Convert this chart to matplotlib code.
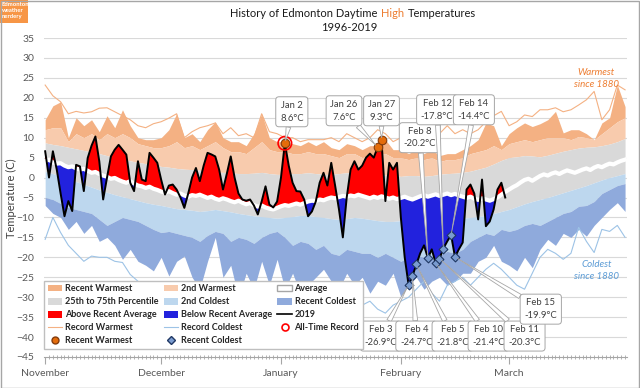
import numpy as np
import matplotlib
matplotlib.use('Agg')
import matplotlib.pyplot as plt
from matplotlib.patches import Patch, Rectangle
from matplotlib.lines import Line2D

plt.rcParams['font.family'] = ['Lato', 'DejaVu Sans']

# day index: 0 = Nov 1 ... 150 = Mar 31
band_days = np.arange(0, 151, 2)
days = np.arange(151)
days_2019 = np.arange(120)

month_starts = [0, 30, 61, 92, 120]
month_names = ['November', 'December', 'January', 'February', 'March']

rec_warm = [23.2, 20.5, 19, 16, 16.6, 16.2, 16.5, 17.4, 17.5, 16.5,
            15.5, 14.5, 13, 12.5, 13.5, 14, 14.9, 16, 10, 11.5,
            12.5, 13, 13.7, 11, 12.5, 10.5, 11, 10, 16, 11.5,
            11, 10, 10, 9, 9.5, 9.5, 9.5, 10, 9, 11,
            10, 9, 10, 12, 11, 9, 10, 9, 10, 11,
            12, 11, 13, 11, 12, 11, 12, 14, 15.5, 16.6,
            13, 14, 15.7, 15.3, 17, 17, 17.5, 16.5, 17, 18.2,
            19.5, 21.6, 14.5, 17, 23.2, 22]
warm1 = [14.5, 18, 19, 10, 15, 13, 14.5, 11.5, 15.5, 12.5,
         17, 13, 10, 9.5, 9.5, 10, 12, 16, 10, 11,
         9, 12, 14, 10, 9, 9, 8, 11, 16, 10,
         9, 9, 8.5, 8, 9, 8, 9, 7.5, 7, 8.5,
         8, 7, 8, 8, 9.5, 7, 7, 6, 7, 6,
         7, 5.5, 6, 6, 7, 8, 9.5, 13.7, 13, 8,
         11, 12.5, 13.7, 12.8, 13.5, 14.5, 16.6, 11.2, 12, 12,
         11, 9.5, 13.7, 15, 23.2, 17.8]
warm2 = [12, 12.5, 12.5, 9, 11, 10, 11, 9.5, 11, 10,
         11, 10, 8.5, 8, 7.5, 7.5, 8, 9, 7.5, 8,
         7, 8, 9, 7.5, 6.5, 6.5, 6, 7.5, 9, 7,
         6.5, 6.5, 6, 6, 6.5, 6, 6, 5.5, 5, 6,
         6, 5, 5.5, 6, 6, 5, 5, 4.5, 5, 4.5,
         5, 4, 4.5, 4.5, 5, 6, 6.5, 7, 8, 7,
         8.5, 9, 9.5, 9, 9.5, 10, 10, 10, 9.5, 10.3,
         10, 9.5, 11, 12.5, 14, 15]
pct75 = [8.7, 8.3, 8, 7.6, 7.2, 6.8, 6.4, 6, 5.5, 5,
         4.6, 4.2, 3.8, 3.5, 3.2, 2.8, 2.6, 2.3, 2.1, 2,
         1.8, 1.6, 1.4, 1.3, 1.2, 1, 1, 1.1, 1.3, 1,
         0.8, 0.8, 1, 1, 1.2, 1, 0.8, 0.8, 1, 1.2,
         1.4, 1.2, 1, 0.8, 0.6, 0.5, 0.3, 0.5, 0.5, 0.3,
         0.5, 0.8, 1, 1.1, 1.3, 1.6, 2.1, 2.6, 3.4, 4.3,
         5, 5.2, 5.5, 5.4, 5.2, 5.6, 6.1, 6.6, 7, 7.4,
         7.6, 7.7, 8, 8.4, 9, 9.8]
pct25 = [1.5, 1, 0.2, -0.5, -1, -1.7, -2.4, -3.1, -3.7, -4.3,
         -4.8, -5.3, -5.8, -6.3, -6.7, -7, -7.4, -7.8, -8, -8.2,
         -8.5, -8.3, -8, -8.3, -8.6, -9, -9.3, -9.6, -9.8, -10,
         -10.2, -10, -9.8, -9.5, -9.5, -9.8, -10, -10.3, -10.5, -10.3,
         -10, -10.2, -10.5, -10.8, -11, -11, -10.8, -10.5, -10.3, -10,
         -10, -10.3, -10.6, -10.5, -10.2, -10, -9.8, -9.5, -9, -8.5,
         -8, -7.3, -6.6, -6, -5.5, -5, -4.4, -3.8, -3.2, -2.6,
         -2, -1.3, -0.6, 0, 0.5, 1]
cold2 = [-5, -5.5, -6.5, -7.5, -8, -8.5, -9, -10.5, -12, -11,
         -10, -10.5, -11, -12, -13, -13.8, -13.5, -14, -14.5, -15,
         -16, -14.5, -13.5, -14, -16, -15, -15.5, -16.5, -15, -14,
         -13.5, -15, -17, -16, -16.5, -18, -17, -19, -19.5, -18,
         -18.5, -19, -19, -20, -19, -20, -21, -20, -19.5, -20,
         -20.5, -19.5, -18.5, -19, -18, -16, -15, -14, -14.5, -13,
         -13.5, -13, -12, -11.5, -12, -11, -10, -9, -8.5, -7.2,
         -7, -6, -4, -3, -2, -1.5]
cold1 = [-7, -9, -10, -13, -11, -14, -12, -16, -15, -17,
         -20.5, -18, -21, -22, -23.4, -20, -24.7, -21, -19.7, -25,
         -28, -21, -15, -25, -22, -30, -24, -28, -21, -27,
         -20.5, -28, -24, -29, -27, -25, -23, -26, -28, -24,
         -27, -25, -29, -26, -27, -24, -30, -27, -25, -28,
         -26, -25, -27, -26, -24, -24, -21, -20, -17, -21,
         -22, -23.4, -20, -22.6, -18, -15.5, -17, -14, -15, -13,
         -14.7, -12, -10, -8, -6.3, -8.5]
rec_cold = [-15.5, -10, -13.8, -17, -19, -21, -19.7, -20, -20, -21,
            -21.3, -24.3, -26, -27, -28, -30, -32, -30, -33, -34,
            -33, -35, -34, -36, -35, -38, -36, -37, -39, -37,
            -38, -40, -38, -39, -37, -41, -40, -38, -36, -39,
            -33, -32, -31, -33, -34, -32, -31, -30, -28, -26,
            -29, -31, -27, -26, -25, -27, -25, -23, -21.5, -23,
            -25, -27, -28, -24, -20, -18, -19, -20.5, -19, -12.5,
            -16, -18.8, -13, -13.5, -12, -15]

average = [4.1, 4.5, 3.8, 3.5, 3.6, 3.0, 2.6, 2.8, 2.3, 2.0,
           2.2, 1.7, 1.2, 1.4, 0.9, 0.5, 0.2, -0.3, -0.1, -0.6,
           -1.0, -1.3, -0.9, -1.5, -2.0, -2.2, -2.6, -2.3, -2.8, -3.1,
           -3.5, -3.8, -3.4, -3.9, -4.3, -4.0, -4.5, -4.8, -4.4, -4.6,
           -4.3, -4.7, -5.1, -4.8, -5.3, -5.6, -5.2, -5.5, -5.9, -6.2,
           -5.8, -6.3, -6.7, -6.4, -6.9, -7.3, -7.0, -7.5, -7.8, -8.0,
           -7.6, -7.2, -6.9, -7.1, -6.8, -6.5, -6.8, -6.4, -6.0, -5.8,
           -5.9, -5.5, -5.7, -5.3, -5.0, -5.2, -4.9, -4.6, -4.8, -4.5,
           -4.7, -4.3, -4.6, -4.9, -5.2, -4.8, -5.1, -4.7, -5.0, -5.3,
           -5.0, -5.4, -5.1, -4.8, -5.2, -5.5, -5.1, -4.7, -4.4, -4.8,
           -4.5, -4.2, -4.6, -4.3, -4.0, -4.4, -4.1, -4.5, -4.8, -5.1,
           -4.8, -5.3, -5.6, -5.2, -5.5, -5.8, -5.4, -5.0, -4.3, -3.6,
           -3.0, -2.4, -1.9, -1.2, -0.6, -0.3, -0.8, -0.2, 0.4, 0.8,
           0.5, 1.0, 1.3, 0.9, 1.4, 1.8, 1.5, 1.2, 1.6, 2.0,
           2.3, 1.9, 2.5, 2.9, 2.6, 3.1, 3.5, 3.3, 3.8, 4.2,
           4.5]

temps_2019 = [6.6, 0, 6.6, 2, -4, -9.7, -5.9, -8.4, 3.2, 2.8,
              -3.4, 4.9, 8, 10.3, 4.1, -5.5, 0, 5.3, 7, 8.2,
              7, 5.75, -1.3, -3.4, 4.1, -0.5, -0.9, 6.2, 5, 3.7,
              -0.5, -4.25, -2, -1.75, -3, -5, -7.6, -4, 0, 2.4,
              -0.9, 3, 6.2, 5.8, 5.3, 2, -3, 1, 5.3, 0,
              -4, -5.5, -5.8, -5.5, -7, -9.25, -6, -2.2, -6.75, -7.5,
              -6, 0, 8.6, 3, -1.3, -3.4, -3.5, -5.5, -9.7, -8.5,
              -6, -1.3, 1.2, -2, 3.7, -2, -8, -15, -5, 2,
              4.1, 2, 3, 5, 6, 5, 7.6, 9.3, -5.9, 3.7,
              2, 3.7, -10, -20, -26.9, -24.7, -21.8, -19, -17, -20.2,
              -18, -21.4, -20.3, -17.8, -16, -14.4, -19.9, -18, -16.3, -3,
              -1.75, -4, -10.5, -0.5, -12.2, -11, -8, -3, -1.3, -5]

warm_days = [62, 86, 87]
warm_labels = ['Jan 2', 'Jan 26', 'Jan 27']
alltime_days = [62]
cold_days = [94, 95, 96, 99, 101, 102, 103, 105, 106]
cold_labels = ['Feb 3', 'Feb 4', 'Feb 5', 'Feb 8', 'Feb 10', 'Feb 11',
               'Feb 12', 'Feb 14', 'Feb 15']

t19 = np.array(temps_2019)
avg = np.array(average)

fig = plt.figure(figsize=(6.4, 3.88), dpi=100)
ax = fig.add_axes([44 / 640, 31 / 388, 583 / 640, 319 / 388])
ax.set_xlim(-0.3, 150.5)
ax.set_ylim(-45, 35)

for yv in range(-40, 36, 5):
    ax.axhline(yv, color='#D9D9D9', lw=0.8, zorder=0)

# climate bands
ax.fill_between(band_days, warm2, warm1, color='#F4B183', lw=0, zorder=1)
ax.fill_between(band_days, pct75, warm2, color='#F8CBAD', lw=0, zorder=1)
ax.fill_between(band_days, pct25, pct75, color='#D9D9D9', lw=0, zorder=1)
ax.fill_between(band_days, cold2, pct25, color='#BDD7EE', lw=0, zorder=1)
ax.fill_between(band_days, cold1, cold2, color='#8FAADC', lw=0, zorder=1)
ax.plot(band_days, rec_warm, color='#F4B183', lw=0.8, zorder=2)
ax.plot(band_days, rec_cold, color='#9DC3E6', lw=0.8, zorder=2)

# 2019 vs average
a19 = avg[:len(t19)]
ax.fill_between(days_2019, a19, t19, where=t19 >= a19, interpolate=True,
                color='#FF0000', lw=0, zorder=3)
ax.fill_between(days_2019, a19, t19, where=t19 <= a19, interpolate=True,
                color='#2222DD', lw=0, zorder=3)
ax.plot(days, avg, color='white', lw=3, zorder=4)
ax.plot(days_2019, t19, color='black', lw=1.4, zorder=5)

# record markers
ax.scatter(warm_days, t19[warm_days], s=38, c='#E46C0A', edgecolors='#843C0C',
           linewidths=0.8, zorder=7)
ax.scatter(alltime_days, t19[alltime_days], s=95, facecolors='none',
           edgecolors='red', linewidths=1.2, zorder=7)
ax.scatter(cold_days, t19[cold_days], s=20, marker='D', c='#7A9CD0',
           edgecolors='#203864', linewidths=0.8, zorder=7)

# callout boxes (box centre in day / degC)
box_pos = {
    'Jan 2': (63.8, 16.5), 'Jan 26': (77.3, 16.75), 'Jan 27': (87, 16.75),
    'Feb 8': (96.9, 10), 'Feb 12': (101.4, 17), 'Feb 14': (110.9, 17),
    'Feb 15': (128.2, -33), 'Feb 3': (86.8, -39.75), 'Feb 4': (96, -39.75),
    'Feb 5': (105.4, -39.75), 'Feb 10': (114.7, -39.75), 'Feb 11': (124, -39.75),
}
for d, lab in zip(warm_days + cold_days, warm_labels + cold_labels):
    ax.annotate(f'{lab}\n{t19[d]:.1f}°C', xy=(d, t19[d]), xytext=box_pos[lab],
                textcoords='data', ha='center', va='center', fontsize=6.8,
                color='#404040', linespacing=1.5,
                bbox=dict(boxstyle='round,pad=0.45,rounding_size=0.35',
                          fc='white', ec='#A6A6A6', lw=0.7),
                arrowprops=dict(arrowstyle='wedge,tail_width=0.5', fc='white',
                                ec='#A6A6A6', lw=0.6, shrinkA=0, shrinkB=2),
                zorder=8)

ax.text(142.6, 24.9, 'Warmest\nsince 1880', color='#ED7D31', fontsize=7,
        style='italic', ha='center', va='center', linespacing=1.4)
ax.text(142.6, -23.3, 'Coldest\nsince 1880', color='#5B9BD5', fontsize=7,
        style='italic', ha='center', va='center', linespacing=1.4)

# axes styling
for s in ['top', 'right', 'left']:
    ax.spines[s].set_visible(False)
ax.spines['bottom'].set_color('#A6A6A6')
ax.set_yticks(range(-45, 36, 5))
ax.tick_params(axis='y', length=0, labelsize=7.5, labelcolor='#595959', pad=7)
ax.set_xticks(month_starts)
ax.set_xticklabels(month_names)
ax.set_xticks(days, minor=True)
ax.tick_params(axis='x', which='major', length=5, color='#A6A6A6',
               labelsize=7.5, labelcolor='#595959', pad=4)
ax.tick_params(axis='x', which='minor', length=3, direction='inout',
               color='#A6A6A6', width=0.6)

# legend
handles = [
    Patch(fc='#F4B183', label='Recent Warmest'),
    Patch(fc='#D9D9D9', label='25th to 75th Percentile'),
    Patch(fc='#FF0000', label='Above Recent Average'),
    Line2D([], [], color='#F4B183', lw=0.8, label='Record Warmest'),
    Line2D([], [], ls='', marker='o', ms=5, mfc='#E46C0A', mec='#843C0C',
           label='Recent Warmest'),
    Patch(fc='#F8CBAD', label='2nd Warmest'),
    Patch(fc='#BDD7EE', label='2nd Coldest'),
    Patch(fc='#2222DD', label='Below Recent Average'),
    Line2D([], [], color='#9DC3E6', lw=0.8, label='Record Coldest'),
    Line2D([], [], ls='', marker='D', ms=4, mfc='#7A9CD0', mec='#203864',
           label='Recent Coldest'),
    Patch(fc='white', ec='#A6A6A6', label='Average'),
    Patch(fc='#8FAADC', label='Recent Coldest'),
    Line2D([], [], color='black', lw=1.2, label='2019'),
    Line2D([], [], ls='', marker='o', ms=5, mfc='none', mec='red', mew=1.2,
           label='All-Time Record'),
]
leg = ax.legend(handles=handles, ncol=3, loc='lower left',
                bbox_to_anchor=(0.0, 0.025, 0.547, 0.21), mode='expand',
                fontsize=6.5, frameon=True, fancybox=False, framealpha=1,
                edgecolor='#BFBFBF', handlelength=1.6, handleheight=0.8,
                handletextpad=0.3, labelspacing=0.45, borderpad=0.4,
                columnspacing=0.8, borderaxespad=0)
leg.set_zorder(9)
for t in leg.get_texts():
    t.set_color('#262626')
    t.set_fontweight('bold')

# titles
t1 = fig.text(230 / 640, 0.955, 'History of Edmonton Daytime', fontsize=8,
              color='#1A1A1A', ha='left', va='baseline')
t2 = ax.annotate('High', xy=(1, 0), xycoords=t1, xytext=(2.5, 0),
                 textcoords='offset points', fontsize=8, color='#ED7D31',
                 ha='left', va='bottom')
ax.annotate('Temperatures', xy=(1, 0), xycoords=t2, xytext=(2.5, 0),
            textcoords='offset points', fontsize=8, color='#1A1A1A',
            ha='left', va='bottom')
fig.text(349 / 640, 0.921, '1996-2019', fontsize=8, color='#1A1A1A',
         ha='center', va='baseline')
fig.text(11 / 640, 0.49, 'Temperature (C)', rotation=90, fontsize=8,
         color='#404040', ha='center', va='center')

# logo tag and frame
fig.add_artist(Rectangle((0, 1 - 23 / 388), 28 / 640, 23 / 388,
                         transform=fig.transFigure, fc='#F79646', ec='none'))
fig.text(2 / 640, 1 - 2 / 388, 'Edmonton\nweather\nnerdery', fontsize=4.2,
         color='white', fontweight='bold', ha='left', va='top', linespacing=1.3)
fig.add_artist(Rectangle((0.001, 0.001), 0.998, 0.997, transform=fig.transFigure,
                         fill=False, ec='#A6A6A6', lw=1))

fig.savefig('out.png', dpi=100)
